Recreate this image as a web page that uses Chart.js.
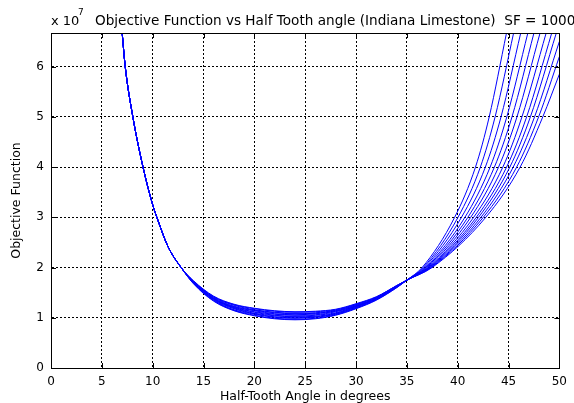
<!DOCTYPE html>
<html>
<head>
<meta charset="utf-8">
<script src="https://cdn.jsdelivr.net/npm/chart.js@4.4.1/dist/chart.umd.min.js"></script>
<style>
  html, body { margin: 0; padding: 0; background: #fff; }
  #wrap { width: 574px; height: 403px; }
</style>
</head>
<body>
<div id="wrap"><canvas id="chart" width="574" height="403"></canvas></div>
<script>
// -----------------------------------------------------------
// DATA  (objective function in units of 1e7)
// -----------------------------------------------------------

const TITLE = "Objective Function vs Half Tooth angle (Indiana Limestone)  SF = 1000";
const X_LABEL = "Half-Tooth Angle in degrees";
const Y_LABEL = "Objective Function";

const xTicks = [0, 5, 10, 15, 20, 25, 30, 35, 40, 45, 50];
const yTicks = [0, 1, 2, 3, 4, 5, 6];
const yMax = 6.67;

// steep left branch, common to all curves
const leftX = [7.0, 7.3, 8.05, 9.05, 10.0, 10.5, 11.5, 12.8];
const leftY = [6.67, 6.0, 5.0, 4.0, 3.25, 2.95, 2.42, 2.0];

// valley, one row per curve
const midX = [14, 16, 18, 20, 22, 24, 26, 28, 30, 32, 34, 35];
const midY = [
  [1.68, 1.33, 1.14, 1.04, 0.98, 0.96, 0.98, 1.05, 1.18, 1.35, 1.60, 1.75],
  [1.69, 1.34, 1.15, 1.05, 0.99, 0.97, 0.99, 1.06, 1.19, 1.36, 1.60, 1.75],
  [1.69, 1.35, 1.16, 1.07, 1.01, 0.99, 1.01, 1.07, 1.20, 1.36, 1.61, 1.75],
  [1.70, 1.36, 1.18, 1.08, 1.02, 1.00, 1.02, 1.08, 1.21, 1.37, 1.61, 1.75],
  [1.70, 1.37, 1.19, 1.09, 1.04, 1.02, 1.03, 1.09, 1.22, 1.38, 1.61, 1.75],
  [1.71, 1.38, 1.20, 1.11, 1.05, 1.03, 1.05, 1.10, 1.23, 1.38, 1.62, 1.75],
  [1.71, 1.38, 1.21, 1.12, 1.07, 1.05, 1.06, 1.12, 1.23, 1.39, 1.62, 1.75],
  [1.72, 1.39, 1.22, 1.14, 1.08, 1.06, 1.08, 1.13, 1.24, 1.39, 1.63, 1.75],
  [1.72, 1.40, 1.23, 1.15, 1.10, 1.08, 1.09, 1.14, 1.25, 1.40, 1.63, 1.75],
  [1.73, 1.41, 1.25, 1.16, 1.11, 1.09, 1.10, 1.15, 1.26, 1.41, 1.64, 1.75],
  [1.73, 1.42, 1.26, 1.18, 1.13, 1.11, 1.12, 1.16, 1.27, 1.41, 1.64, 1.75],
  [1.74, 1.43, 1.27, 1.19, 1.14, 1.12, 1.13, 1.17, 1.28, 1.42, 1.64, 1.75]
];

// right branch: angle where each curve reaches these levels
const riseLevels = [2, 3, 4, 5];
const riseX = [
  [36.50, 39.70, 41.75, 43.10],
  [36.61, 40.03, 42.23, 43.68],
  [36.71, 40.37, 42.72, 44.26],
  [36.82, 40.71, 43.19, 44.83],
  [36.91, 41.00, 43.61, 45.34],
  [37.01, 41.28, 44.02, 45.83],
  [37.10, 41.57, 44.44, 46.32],
  [37.18, 41.83, 44.81, 46.78],
  [37.25, 42.05, 45.13, 47.15],
  [37.33, 42.29, 45.46, 47.56],
  [37.40, 42.52, 45.80, 47.96],
  [37.48, 42.76, 46.14, 48.37]
];
// last visible point of each curve (top edge or right edge)
const endX = [44.80, 45.50, 46.20, 46.90, 47.50, 48.10, 48.70, 49.25, 49.70, 50, 50, 50];
const endY = [6.67, 6.67, 6.67, 6.67, 6.67, 6.67, 6.67, 6.67, 6.67, 6.50, 6.20, 5.85];

// -----------------------------------------------------------
// BUILD DATASETS
// -----------------------------------------------------------

function curvePoints(k) {
  const pts = [];
  leftX.forEach((x, i) => pts.push({ x, y: leftY[i] }));
  midX.forEach((x, i) => pts.push({ x, y: midY[k][i] }));
  riseX[k].forEach((x, i) => pts.push({ x, y: riseLevels[i] }));
  pts.push({ x: endX[k], y: endY[k] });
  return pts;
}

const datasets = midY.map((_, k) => ({
  data: curvePoints(k),
  borderColor: "#0000ff",
  borderWidth: 1,
  pointRadius: 0,
  fill: false,
  cubicInterpolationMode: "monotone"
}));

// -----------------------------------------------------------
// FRAME, INWARD TICKS, TITLE
// -----------------------------------------------------------

const FONT = '"DejaVu Sans", sans-serif';

const frame = {
  id: "frame",
  afterDraw(chart) {
    const { ctx, chartArea: a, scales: { x, y } } = chart;
    ctx.save();
    ctx.strokeStyle = "#000";
    ctx.lineWidth = 1;
    ctx.strokeRect(Math.round(a.left) + 0.5, Math.round(a.top) + 0.5,
                   Math.round(a.right - a.left), Math.round(a.bottom - a.top));

    ctx.beginPath();
    xTicks.forEach(v => {
      const px = Math.round(x.getPixelForValue(v)) + 0.5;
      ctx.moveTo(px, a.bottom); ctx.lineTo(px, a.bottom - 5);
      ctx.moveTo(px, a.top); ctx.lineTo(px, a.top + 5);
    });
    yTicks.forEach(v => {
      const py = Math.round(y.getPixelForValue(v)) + 0.5;
      ctx.moveTo(a.left, py); ctx.lineTo(a.left + 5, py);
      ctx.moveTo(a.right, py); ctx.lineTo(a.right - 5, py);
    });
    ctx.stroke();

    ctx.fillStyle = "#000";
    ctx.textBaseline = "alphabetic";
    ctx.font = "13px " + FONT;
    ctx.fillText("x 10", 51, 25);
    ctx.font = "13.6px " + FONT;
    ctx.fillText(TITLE, 95, 25);
    ctx.font = "9px " + FONT;
    ctx.fillText("7", 78, 15);
    ctx.restore();
  }
};

new Chart(document.getElementById("chart"), {
  type: "line",
  data: { datasets },
  options: {
    responsive: false,
    animation: false,
    devicePixelRatio: 1,
    layout: { padding: { top: 33, right: 9, left: 0, bottom: 0 } },
    plugins: { legend: { display: false }, tooltip: { enabled: false } },
    scales: {
      x: {
        type: "linear",
        min: 0, max: 50,
        afterBuildTicks: s => { s.ticks = xTicks.map(v => ({ value: v })); },
        afterFit: s => { s.height = 35; },
        grid: { color: "#000", lineWidth: 1, drawTicks: false },
        border: { display: true, color: "#000", width: 1, dash: [2, 2] },
        ticks: { color: "#000", font: { family: FONT, size: 12 }, padding: 7, maxRotation: 0 },
        title: { display: true, text: X_LABEL, color: "#000",
                 font: { family: FONT, size: 12.5, lineHeight: 1 }, padding: { top: 0, bottom: 0 } }
      },
      y: {
        min: 0, max: yMax,
        afterBuildTicks: s => { s.ticks = yTicks.map(v => ({ value: v })); },
        afterFit: s => { s.width = 51; },
        grid: { color: "#000", lineWidth: 1, drawTicks: false },
        border: { display: true, color: "#000", width: 1, dash: [2, 2] },
        ticks: { color: "#000", font: { family: FONT, size: 12 }, padding: 7 },
        title: { display: true, text: Y_LABEL, color: "#000",
                 font: { family: FONT, size: 12.5 }, padding: { top: 9, bottom: 0 } }
      }
    }
  },
  plugins: [frame]
});
</script>
</body>
</html>
